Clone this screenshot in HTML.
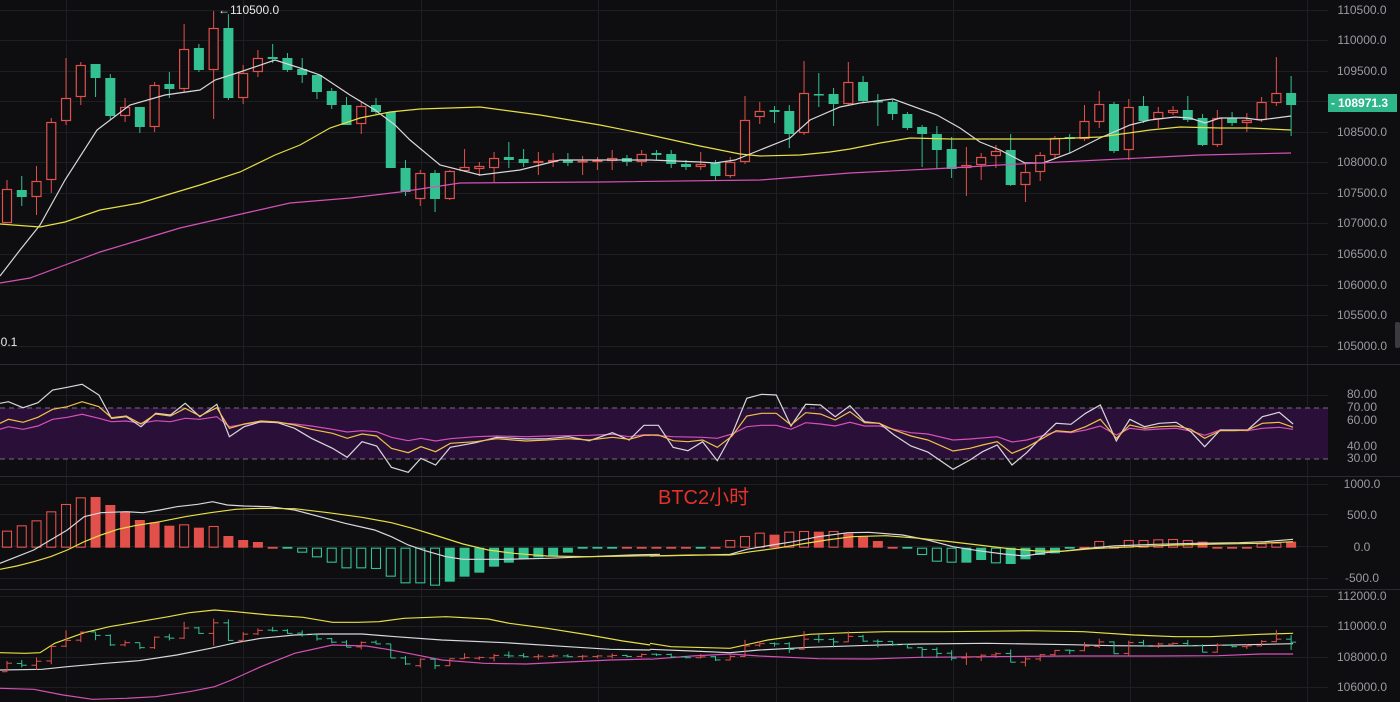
<!DOCTYPE html>
<html><head><meta charset="utf-8"><style>
html,body{margin:0;padding:0;background:#0e0e10;}
svg{display:block;}
text{font-family:"Liberation Sans",sans-serif;}
</style></head><body>
<svg id="s" width="1400" height="702" xmlns="http://www.w3.org/2000/svg">
<rect width="1400" height="702" fill="#0e0e10"/>
<g id="grid" stroke="#1e1f23" stroke-width="1"></g>
<rect x="0" y="408" width="1328" height="51" fill="#2a0f38"/>
<line x1="0" y1="408" x2="1328" y2="408" stroke="#7a6a86" stroke-dasharray="5,4"/>
<line x1="0" y1="459" x2="1328" y2="459" stroke="#7a6a86" stroke-dasharray="5,4"/>
<g id="g"></g>
<g fill="#9a9aa0" font-size="12" text-anchor="middle" id="labels"></g>
<rect x="1328" y="94" width="69" height="18" fill="#2fb58a"/>
<text x="1331" y="107" fill="#fff" font-size="12" font-weight="bold">-</text>
<text x="1338" y="107" fill="#fff" font-size="12" font-weight="bold">108971.3</text>
<text x="218" y="14" fill="#e8e8e8" font-size="12">←110500.0</text>
<text x="-6" y="346" fill="#e8e8e8" font-size="12">60.1</text>
<text x="658" y="504" fill="#e3312d" font-size="20" style='font-family:"Liberation Sans","Noto Sans CJK SC",sans-serif'>BTC2小时</text>
<rect x="1395" y="322" width="5" height="26" rx="2" fill="#3a3a3f"/>
</svg>
<script>
var NS="http://www.w3.org/2000/svg",G=document.getElementById('g'),GR=document.getElementById('grid'),L=document.getElementById('labels');
function el(t,a,p){var e=document.createElementNS(NS,t);for(var k in a)e.setAttribute(k,a[k]);(p||G).appendChild(e);return e;}
var RED="#e2504b",GRN="#33c191";
// grid
[10,40,71,101,132,162,193,223,254,285,315,346,364,395,420,446,476,484,514,546,578,589,596,626,657,687].forEach(function(y){el('line',{x1:0,y1:y+0.5,x2:1328,y2:y+0.5},GR);});
[66,243,421,598,776,953,1130,1307].forEach(function(x){el('line',{x1:x+0.5,y1:0,x2:x+0.5,y2:702},GR);});
el('line',{x1:0,y1:364.5,x2:1400,y2:364.5,stroke:'#2a2b30'},GR);
el('line',{x1:0,y1:476.5,x2:1400,y2:476.5,stroke:'#2a2b30'},GR);
el('line',{x1:0,y1:589.5,x2:1400,y2:589.5,stroke:'#2a2b30'},GR);
// labels
var lab=[[10,"110500.0"],[40,"110000.0"],[71,"109500.0"],[132,"108500.0"],[162,"108000.0"],[193,"107500.0"],[223,"107000.0"],[254,"106500.0"],[285,"106000.0"],[315,"105500.0"],[346,"105000.0"],
[394,"80.00"],[407,"70.00"],[420,"60.00"],[446,"40.00"],[458,"30.00"],[484,"1000.0"],[515,"500.0"],[547,"0.0"],[578,"-500.0"],[596,"112000.0"],[626,"110000.0"],[657,"108000.0"],[687,"106000.0"]];
lab.forEach(function(l){var t=el('text',{x:1362,y:l[0]+4},L);t.textContent=l[1];});
// candles [top,bot,high,low,type]
var C=[[189,223,180,223,'u'],[190,197,176,206,'d'],[181,197,166,215,'u'],[122,180,118,193,'u'],[98,121,58,125,'u'],[65,97,62,105,'u'],[64,78,64,97,'d'],[78,116,74,120,'d'],[107,116,98,122,'u'],[107,127,107,133,'d'],
[85,127,82,132,'u'],[84,89,72,98,'d'],[49,89,24,92,'u'],[48,70,44,72,'d'],[28,70,11,119,'u'],[28,98,14,100,'d'],[73,98,65,104,'u'],[58,72,50,77,'u'],[57,59,44,63,'d'],[58,70,53,72,'d'],
[69,75,58,83,'d'],[75,92,75,99,'d'],[91,105,88,109,'d'],[105,125,97,125,'d'],[106,124,102,134,'u'],[105,112,98,114,'d'],[112,168,112,168,'d'],[168,192,160,196,'d'],[173,199,170,206,'u'],[173,199,170,212,'d'],
[171,199,170,200,'u'],[167,171,149,172,'u'],[166,169,162,176,'u'],[158,168,152,182,'u'],[157,160,142,168,'d'],[159,163,149,167,'d'],[161,163,152,175,'u'],[160,162,153,167,'u'],[160,163,153,166,'d'],[161,162,156,175,'u'],
[160,162,157,170,'u'],[158,161,150,170,'u'],[158,162,155,166,'d'],[154,162,150,166,'u'],[153,155,150,160,'d'],[154,164,150,168,'d'],[164,167,160,170,'d'],[164,167,152,170,'u'],[163,176,160,180,'d'],[162,176,157,178,'u'],
[120,162,96,164,'u'],[111,117,102,124,'u'],[110,112,106,123,'d'],[111,134,105,148,'d'],[93,133,61,135,'u'],[94,95,73,107,'d'],[94,104,88,126,'d'],[82,104,62,105,'u'],[82,101,76,103,'d'],[101,102,94,126,'d'],
[102,114,100,120,'d'],[114,128,112,130,'d'],[127,134,125,167,'d'],[134,150,126,168,'d'],[149,169,137,178,'d'],[165,168,147,196,'u'],[157,165,153,180,'u'],[151,156,145,168,'u'],[150,185,134,186,'d'],[172,185,163,202,'u'],
[155,172,152,181,'u'],[138,155,136,158,'u'],[137,139,134,153,'d'],[121,139,105,141,'u'],[104,122,91,128,'u'],[104,151,102,153,'d'],[107,150,99,160,'u'],[106,121,96,123,'d'],[112,119,107,128,'u'],[110,113,106,115,'u'],
[110,120,96,122,'d'],[118,145,114,146,'d'],[118,145,110,147,'u'],[118,123,112,126,'d'],[120,123,113,132,'u'],[102,120,97,122,'u'],[93,103,57,106,'u'],[93,105,76,136,'d']];
function X(i){return 7+i*14.76;}
function pl(pts,col,ox,sx,oy,sy){var s=pts.map(function(p){return (ox+p[0]/sx).toFixed(1)+","+(oy+p[1]/sy).toFixed(1);}).join(" ");el('polyline',{points:s,fill:'none',stroke:col,'stroke-width':1.2});}
// main candles
C.forEach(function(c,i){var x=X(i),col=c[4]=='u'?RED:GRN;
 el('line',{x1:x,y1:c[2],x2:x,y2:Math.min(c[0],c[1]),stroke:col});
 el('line',{x1:x,y1:c[3],x2:x,y2:Math.max(c[0],c[1]),stroke:col});
 var h=Math.max(1.5,c[1]-c[0]);
 if(c[4]=='u') el('rect',{x:x-4.5,y:c[0]+0.5,width:9,height:h-1,fill:'#0e0e10',stroke:col,'stroke-width':1.2});
 else el('rect',{x:x-5,y:c[0],width:10,height:h,fill:col});
});
// main MAs
pl([[0,276],[20,250],[40,225],[65,180],[97,130],[130,105],[165,95],[200,90],[215,80],[240,72],[275,60],[300,68],[320,75],[350,95],[375,110],[395,125],[410,140],[440,165],[480,175],[520,170],[560,160],[600,160],[650,160],[700,162],[715,163],[735,160],[760,150],[790,138],[810,120],[840,107],[860,103],[893,99],[937,115],[960,128],[980,142],[1000,150],[1025,163],[1043,163],[1070,153],[1100,138],[1130,125],[1150,120],[1175,117],[1190,118],[1205,123],[1220,118],[1245,118],[1260,120],[1291,116]],"#d8d8dc",0,1,0,1);
pl([[0,224],[40,227],[65,222],[100,210],[140,203],[170,194],[200,185],[240,172],[275,155],[300,145],[330,128],[360,118],[390,112],[420,109],[480,107],[540,115],[600,125],[650,135],[700,146],[740,154],[760,156],[800,155],[830,152],[850,149],[880,143],[910,138],[950,139],[1000,139],[1050,139],[1100,137],[1150,130],[1180,127],[1220,128],[1250,128],[1291,130]],"#e6df45",0,1,0,1);
pl([[0,283],[30,278],[65,265],[100,252],[140,240],[180,228],[250,212],[290,203],[350,198],[400,192],[460,183],[600,182],[760,180],[850,173],[950,168],[1000,165],[1100,160],[1200,155],[1291,153]],"#d551b8",0,1,0,1);
// RSI
var SX=2.376,SY=3;
pl([[0,208],[20,200],[55,208],[90,198],[125,178],[160,172],[195,163],[235,175],[265,185],[300,183],[335,190],[370,182],[405,185],[440,175],[475,178],[515,170],[545,200],[580,193],[620,186],[660,188],[700,192],[740,198],[790,208],[825,216],[860,212],[895,215],[930,232],[970,242],[1000,235],[1035,243],[1070,236],[1130,230],[1180,228],[1250,230],[1300,228],[1350,227],[1400,226],[1455,223],[1495,230],[1530,224],[1545,224]],"#d551b8",0,SX,360,SY);
pl([[0,225],[55,230],[125,232],[160,235],[195,222],[230,200],[265,196],[300,196],[335,208],[370,188],[405,192],[440,198],[475,187],[510,198],[545,198],[580,208],[620,218],[660,222],[720,240],[760,237],[825,230],[860,246],[895,240],[930,228],[965,215],[1000,218],[1035,210],[1070,198],[1108,225],[1140,205],[1175,210],[1210,207],[1250,205],[1285,213],[1318,226],[1355,210],[1420,212],[1455,205],[1495,202],[1528,208]],"#d551b8",650,SX,360,SY);
pl([[0,130],[20,125],[55,143],[90,128],[125,90],[160,82],[195,73],[235,105],[265,175],[300,170],[335,200],[370,160],[405,165],[440,130],[475,170],[515,133],[545,230],[580,200],[620,185],[660,188],[700,205],[740,235],[790,265],[825,292],[860,245],[895,258],[930,322],[970,337],[1000,295],[1035,315],[1070,262],[1130,248],[1180,232],[1250,237],[1300,236],[1350,230],[1400,242],[1455,218],[1495,240],[1530,196],[1545,196]],"#d8d8dc",0,SX,360,SY);
pl([[0,196],[20,196],[55,262],[90,272],[125,245],[160,302],[195,222],[230,115],[265,103],[300,105],[335,198],[370,133],[405,135],[440,170],[475,137],[510,185],[545,190],[580,225],[620,258],[660,276],[720,328],[760,300],[790,275],[825,255],[860,315],[895,278],[930,232],[965,190],[1000,193],[1035,160],[1070,135],[1108,243],[1140,178],[1175,200],[1210,190],[1250,187],[1285,215],[1318,260],[1355,210],[1390,210],[1420,210],[1455,170],[1495,157],[1528,192]],"#d8d8dc",650,SX,360,SY);
pl([[0,190],[20,178],[55,187],[90,172],[125,148],[160,140],[195,125],[235,140],[265,173],[300,168],[335,192],[370,162],[405,168],[440,145],[475,168],[515,143],[545,205],[580,192],[620,183],[660,186],[700,195],[740,208],[790,220],[825,235],[860,222],[895,228],[930,265],[970,278],[1000,260],[1035,275],[1070,250],[1130,245],[1180,236],[1250,243],[1300,240],[1350,236],[1400,240],[1455,232],[1495,238],[1530,226],[1545,226]],"#f0c14b",0,SX,360,SY);
pl([[0,225],[20,225],[55,242],[90,245],[125,240],[160,262],[195,228],[230,168],[265,160],[300,160],[335,195],[370,158],[405,162],[440,180],[475,155],[510,188],[545,190],[580,210],[620,228],[660,240],[720,273],[760,265],[790,255],[825,245],[860,280],[895,262],[930,237],[965,212],[1000,216],[1035,200],[1070,178],[1108,235],[1140,195],[1175,205],[1210,200],[1250,198],[1285,208],[1318,235],[1355,212],[1390,212],[1420,210],[1455,190],[1495,187],[1528,202]],"#f0c14b",650,SX,360,SY);
// MACD histogram: [y', type] type: R=red filled, r=red hollow, G=green filled, g=green hollow
var H=[[512,'r'],[496,'r'],[481,'r'],[454,'r'],[432,'r'],[412,'r'],[411,'R'],[435,'R'],[455,'R'],[480,'R'],[487,'R'],[497,'R'],[493,'r'],[503,'R'],[498,'r'],[528,'R'],[540,'R'],[546,'R'],[552,'R'],[565,'G'],
[578,'g'],[592,'g'],[608,'g'],[625,'g'],[625,'g'],[627,'g'],[650,'g'],[670,'g'],[670,'g'],[677,'g'],[665,'G'],[650,'G'],[638,'G'],[620,'G'],[608,'G'],[597,'G'],[592,'G'],[587,'G'],[578,'G'],[572,'G'],
[570,'G'],[567,'G'],[558,'R'],[558,'R'],[558,'R'],[558,'R'],[558,'R'],[565,'G'],[560,'R'],[540,'r'],[528,'r'],[518,'r'],[524,'R'],[515,'r'],[513,'r'],[515,'R'],[513,'r'],[520,'R'],[530,'R'],[543,'R'],
[560,'R'],[567,'g'],[585,'g'],[605,'g'],[608,'g'],[608,'G'],[600,'G'],[610,'g'],[612,'G'],[598,'G'],[585,'G'],[580,'G'],[573,'G'],[558,'R'],[543,'r'],[552,'R'],[540,'r'],[540,'r'],[538,'r'],[537,'r'],
[540,'r'],[545,'R'],[555,'R'],[555,'R'],[555,'R'],[550,'r'],[548,'r'],[545,'R']];
var Z=547.7;
H.forEach(function(h,i){var x=X(i),y=360+h[0]/3,t=h[1],col=(t=='R'||t=='r')?RED:GRN;
 var top=Math.min(y,Z),ht=Math.max(1.5,Math.abs(y-Z));
 if(ht<4){el('rect',{x:x-5,y:Z-0.8,width:10,height:1.8,fill:col});return;}
 if(t=='R'||t=='G') el('rect',{x:x-5,y:top,width:10,height:ht,fill:col});
 else el('rect',{x:x-4.5,y:top+0.5,width:9,height:ht-1,fill:'none',stroke:col,'stroke-width':1.1});
});
pl([[0,610],[40,590],[80,570],[120,540],[160,510],[200,470],[240,458],[300,455],[340,458],[380,450],[420,440],[470,433],[505,425],[540,435],[580,438],[640,440],[700,450],[760,470],[820,490],[890,510],[930,530],[970,555],[1010,572],[1060,590],[1100,598],[1200,598],[1300,595],[1400,590],[1500,585],[1568,583]],"#d8d8dc",0,SX,360,SY);
pl([[0,588],[100,586],[190,583],[230,568],[290,555],[340,545],[400,530],[470,518],[520,517],[600,525],[660,540],[720,560],[780,572],[840,582],[890,588],[940,578],[990,572],[1040,565],[1100,558],[1200,553],[1300,550],[1400,548],[1460,545],[1528,538]],"#d8d8dc",650,SX,360,SY);
pl([[0,628],[40,618],[80,605],[120,590],[160,570],[200,545],[240,525],[280,508],[320,497],[380,485],[440,470],[500,458],[560,448],[620,445],[700,446],[780,458],[860,472],[930,488],[980,505],[1040,528],[1100,552],[1160,570],[1220,580],[1300,588],[1400,590],[1500,588],[1568,587]],"#e6df45",0,SX,360,SY);
pl([[0,588],[100,585],[190,585],[240,575],[300,565],[360,552],[420,540],[480,530],[560,527],[640,535],[700,543],[780,555],[860,567],[920,573],[980,574],[1050,566],[1150,560],[1250,555],[1350,552],[1450,550],[1528,545]],"#e6df45",650,SX,360,SY);
// bottom panel bands
pl([[0,878],[60,880],[95,878],[130,850],[200,818],[260,800],[330,785],[400,770],[450,758],[510,750],[560,755],[640,765],[720,772],[790,787],[850,787],[900,785],[960,775],[1060,770],[1160,777],[1210,790],[1300,805],[1400,825],[1480,843],[1545,855]],"#e6df45",0,SX,360,SY);
pl([[0,850],[50,860],[190,865],[280,840],[380,823],[470,818],[560,815],[700,815],[900,812],[1030,815],[1150,825],[1250,830],[1330,830],[1450,823],[1528,820]],"#e6df45",650,SX,360,SY);
pl([[0,930],[100,928],[160,920],[250,910],[330,902],[420,885],[500,865],[560,848],[620,835],[700,825],[760,822],[860,822],[940,830],[1050,840],[1200,848],[1350,860],[1450,868],[1545,870]],"#d8d8dc",0,SX,360,SY);
pl([[0,868],[100,873],[190,878],[260,870],[380,862],[520,856],[640,852],[800,850],[1000,854],[1100,857],[1200,858],[1300,857],[1420,854],[1528,851]],"#d8d8dc",650,SX,360,SY);
pl([[0,985],[80,988],[150,1005],[220,1018],[300,1015],[370,1010],[450,995],[510,980],[550,960],[620,920],[700,880],[790,855],[870,858],[920,868],[970,880],[1050,900],[1150,910],[1250,912],[1350,906],[1450,900],[1545,897]],"#d551b8",0,SX,360,SY);
pl([[0,898],[100,888],[190,882],[260,888],[400,896],[520,897],[640,892],[800,890],[1000,888],[1200,888],[1350,887],[1450,882],[1528,882]],"#d551b8",650,SX,360,SY);
// bottom OHLC bars
function BY(y){var p=110500-(y-10)/0.06109;return 626+(110000-p)*0.01531;}
C.forEach(function(c,i){var x=X(i),col=c[4]=='u'?RED:GRN,o=c[4]=='u'?c[1]:c[0],cl=c[4]=='u'?c[0]:c[1];
 el('line',{x1:x,y1:BY(c[2]),x2:x,y2:BY(c[3]),stroke:col});
 el('line',{x1:x-5,y1:BY(o),x2:x,y2:BY(o),stroke:col});
 el('line',{x1:x,y1:BY(cl),x2:x+5,y2:BY(cl),stroke:col});
});
</script>
</body></html>
